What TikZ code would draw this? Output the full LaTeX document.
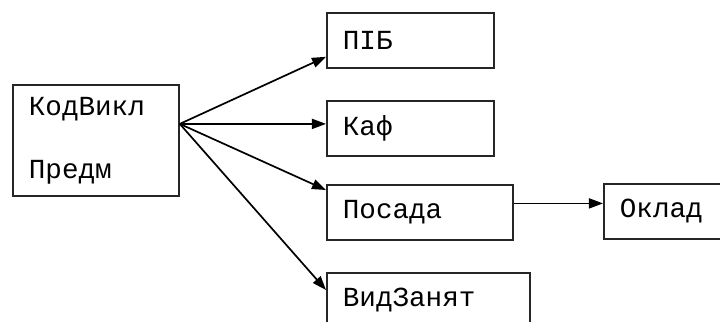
\documentclass[tikz,border=0pt]{standalone}
\usepackage{fontspec}
\setmonofont{Liberation Mono}
\usepackage{tikz}
\usetikzlibrary{arrows.meta,positioning}

\begin{document}
\begin{tikzpicture}[
    x=0.5pt, y=-0.5pt,
    % Стилі
    box/.style={draw=black!85, line width=0.9pt, inner xsep=8pt, inner ysep=0pt, minimum height=27.5pt, align=left, anchor=north west, font=\ttfamily\fontsize{13.8}{31.5}\selectfont},
    fld/.style={box, text width=#1},
    arr/.style={-{Triangle[length=7pt,width=5pt]}, line width=0.85pt}
]
\useasboundingbox (0,0) rectangle (720,322);
\clip (0,0) rectangle (720,322);

% --- ВУЗЛИ ---
\node[fld=67pt, minimum height=55.5pt] (kod) at (12,84) {КодВикл\\Предм};

\node[fld=67.5pt] (pib) at (326,12)  {ПІБ};
\node[fld=67.5pt] (kaf) at (326,100) {Каф};
\node[fld=77pt]   (pos) at (326,184) {Посада};
\node[fld=85.5pt] (vid) at (326,272) {ВидЗанят};

\node[fld=54pt]   (okl) at (603,183) {Оклад};

% --- СТРІЛКИ ---
\coordinate (fan) at ([yshift=8.25pt]kod.east);

\draw[arr] (fan) -- ([yshift=6pt]pib.south west);
\draw[arr] (fan) -- (kaf.west |- fan);
\draw[arr] (fan) -- ([yshift=-3pt]pos.north west);
\draw[arr] (fan) -- ([yshift=-9pt]vid.north west);

\coordinate (posout) at ([yshift=4.5pt]pos.east);
\draw[arr] (posout) -- (okl.west |- posout);

\end{tikzpicture}
\end{document}
